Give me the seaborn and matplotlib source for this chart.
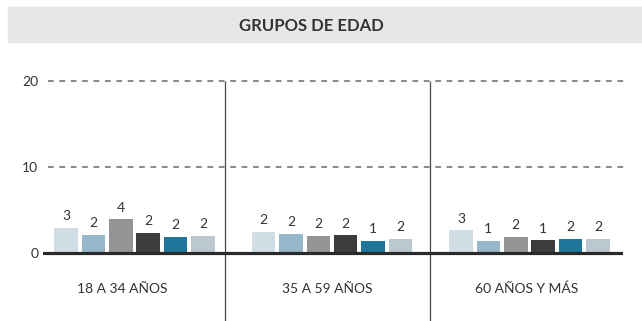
import matplotlib
matplotlib.use("Agg")
import matplotlib.pyplot as plt
from matplotlib.patches import Rectangle
import pandas as pd
import seaborn as sns

# Age groups and the six series plotted in each
grupos = ["18 A 34 AÑOS", "35 A 59 AÑOS", "60 AÑOS Y MÁS"]
series = ["S1", "S2", "S3", "S4", "S5", "S6"]
colores = ["#cfdfe8", "#8dbbd3", "#939598", "#3c3c3c", "#0a7fb0", "#b8c9d3"]

valores_18_34 = [2.94, 2.09, 3.92, 2.33, 1.86, 1.98]
valores_35_59 = [2.45, 2.24, 1.98, 2.06, 1.43, 1.63]
valores_60_mas = [2.64, 1.43, 1.86, 1.48, 1.63, 1.63]

yticks = [0, 10, 20]
titulo = "GRUPOS DE EDAD"

df = pd.DataFrame({
    "grupo": [g for g in grupos for _ in series],
    "serie": series * len(grupos),
    "valor": valores_18_34 + valores_35_59 + valores_60_mas,
})

sns.set_style("white")
plt.rcParams["font.family"] = ["Lato", "DejaVu Sans"]
plt.rcParams["lines.scale_dashes"] = False
texto = "#333333"

W, H = 642, 321
fig = plt.figure(figsize=(W / 100, H / 100), dpi=100)

# axes geometry in pixels
px_left, px_right = 43.3, 622.7
px_zero, px_per_unit = 253.0, 8.6
px_top = 76.0
ax = fig.add_axes([px_left / W, 0, (px_right - px_left) / W, (H - px_top) / H])

sns.barplot(data=df, x="grupo", y="valor", hue="serie", order=grupos,
            hue_order=series, palette=colores, width=0.832, gap=0.138,
            linewidth=0, legend=False, ax=ax, zorder=3)

unit_x = 197.5
x_left = (px_left - 134.5) / unit_x
x_right = (px_right - 134.5) / unit_x
ax.set_xlim(x_left, x_right)
ax.set_ylim(-(H - px_zero) / px_per_unit, (px_zero - px_top) / px_per_unit)

for c in ax.containers:
    ax.bar_label(c, fmt="{:.0f}", padding=4, fontsize=10, color=texto)

# dashed reference lines
ax.hlines([10, 20], xmin=(48 - 134.5) / unit_x, xmax=(624 - 134.5) / unit_x,
          colors="#8c8c8c", linewidth=1.5, linestyles=(0, (4.1, 4.1)),
          zorder=1, clip_on=False)
# baseline
ax.axhline(0, color="#2a2a2a", linewidth=2.3, zorder=4)

# group separators
separadores = [(225 - 134.5) / unit_x, (430 - 134.5) / unit_x]
ax.vlines(separadores, ymin=ax.get_ylim()[0], ymax=20, colors="#4a4a4a",
          linewidth=0.9, zorder=2)

bordes = [(20 - 134.5) / unit_x] + separadores + [x_right]
for i, g in enumerate(grupos):
    xc = (bordes[i] + bordes[i + 1]) / 2
    ax.text(xc, -4.15, g, ha="center", va="center", fontsize=10, color=texto)

ax.set_yticks(yticks)
ax.set_yticklabels([str(t) for t in yticks], fontsize=10, color=texto)
ax.tick_params(axis="y", length=0, pad=3.5)
ax.set_xticks([])
ax.set_xlabel("")
ax.set_ylabel("")
for s in ax.spines.values():
    s.set_visible(False)

# title band
fig.patches.append(Rectangle((8 / W, 1 - 42 / H), (W - 8) / W, 35 / H,
                             transform=fig.transFigure, color="#e6e7e8", zorder=0))
fig.text(311 / W, 1 - 26 / H, titulo, ha="center", va="center",
         fontsize=12, fontweight="bold", color=texto)

fig.savefig("out.png", dpi=100)
